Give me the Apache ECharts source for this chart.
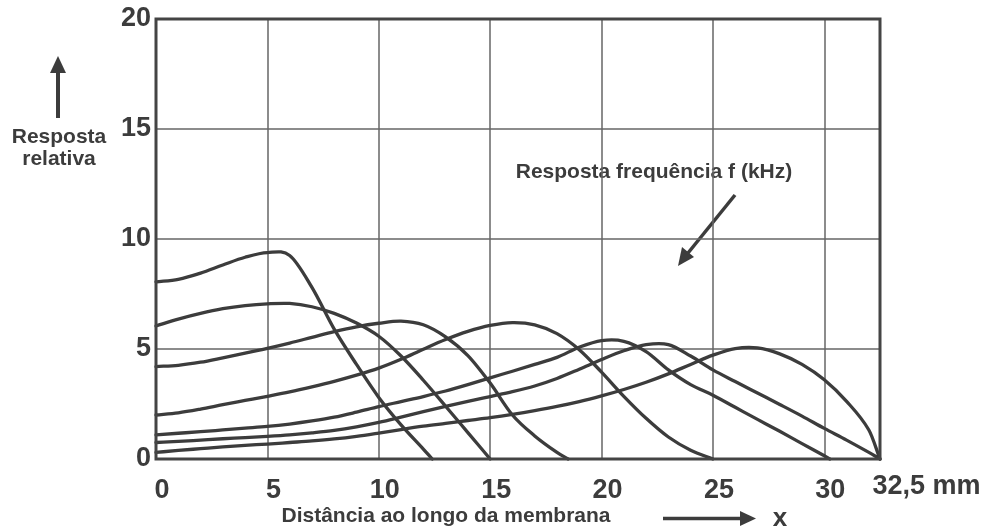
<!DOCTYPE html>
<html><head><meta charset="utf-8">
<script src="https://cdn.jsdelivr.net/npm/echarts@6/dist/echarts.min.js"></script>
<style>html,body{margin:0;padding:0;background:#fff}#c{width:987px;height:527px}</style>
</head><body><div id="c"></div>
<script>
// Axis ticks
const xMin = 0, xMax = 32.5, xStep = 5;
const yMin = 0, yMax = 20, yStep = 5;
const xEndLabel = '32,5 mm';

// Response curves (x in mm, y = relative response) at 1 mm steps
const curve1X = [0, 1, 2, 3, 4, 5, 6, 7, 8, 9, 10, 11, 12, 12.4];
const curve1Y = [8.05, 8.17, 8.45, 8.82, 9.17, 9.38, 9.25, 7.8, 5.9, 4.3, 2.8, 1.55, 0.45, 0];

const curve2X = [0, 1, 2, 3, 4, 5, 6, 7, 8, 9, 10, 11, 12, 13, 14, 15];
const curve2Y = [6.05, 6.36, 6.62, 6.83, 6.97, 7.05, 7.07, 6.92, 6.62, 6.18, 5.58, 4.68, 3.58, 2.4, 1.2, 0];

const curve3X = [0, 1, 2, 3, 4, 5, 6, 7, 8, 9, 10, 11, 12, 13, 14, 15, 16, 17, 18, 18.5];
const curve3Y = [4.2, 4.26, 4.4, 4.6, 4.81, 5.03, 5.27, 5.53, 5.79, 6.01, 6.17, 6.27, 6.1, 5.55, 4.7, 3.45, 2.0, 1.05, 0.3, 0];

const curve4X = [0, 1, 2, 3, 4, 5, 6, 7, 8, 9, 10, 11, 12, 13, 14, 15, 16, 17, 18, 19, 20, 21, 22, 23, 24, 25];
const curve4Y = [2.0, 2.1, 2.27, 2.47, 2.66, 2.85, 3.05, 3.28, 3.53, 3.81, 4.13, 4.53, 4.99, 5.43, 5.8, 6.07, 6.2, 6.1, 5.7, 4.97, 3.95, 2.85, 1.85, 1.0, 0.4, 0];

const curve5X = [0, 1, 2, 3, 4, 5, 6, 7, 8, 9, 10, 11, 12, 13, 14, 15, 16, 17, 18, 19, 20, 21, 22, 23, 24, 25, 26, 27, 28, 29, 30, 30.25];
const curve5Y = [1.1, 1.17, 1.24, 1.32, 1.4, 1.48, 1.59, 1.73, 1.9, 2.13, 2.38, 2.61, 2.84, 3.09, 3.38, 3.69, 3.99, 4.3, 4.62, 5.08, 5.38, 5.35, 4.88, 4.05, 3.38, 2.9, 2.35, 1.8, 1.26, 0.7, 0.15, 0];

const curve6X = [0, 1, 2, 3, 4, 5, 6, 7, 8, 9, 10, 11, 12, 13, 14, 15, 16, 17, 18, 19, 20, 21, 22, 23, 24, 25, 26, 27, 28, 29, 30, 31, 32, 32.5];
const curve6Y = [0.75, 0.8, 0.86, 0.92, 0.97, 1.03, 1.1, 1.19, 1.3, 1.46, 1.66, 1.9, 2.15, 2.39, 2.62, 2.84, 3.06, 3.32, 3.66, 4.08, 4.52, 4.92, 5.2, 5.2, 4.68, 4.05, 3.52, 3.0, 2.48, 1.95, 1.39, 0.86, 0.3, 0];

const curve7X = [0, 1, 2, 3, 4, 5, 6, 7, 8, 9, 10, 11, 12, 13, 14, 15, 16, 17, 18, 19, 20, 21, 22, 23, 24, 25, 26, 27, 28, 29, 30, 31, 32, 32.5];
const curve7Y = [0.3, 0.39, 0.47, 0.55, 0.62, 0.68, 0.75, 0.82, 0.91, 1.03, 1.18, 1.34, 1.49, 1.62, 1.75, 1.88, 2.03, 2.2, 2.39, 2.61, 2.87, 3.16, 3.49, 3.87, 4.3, 4.72, 5.02, 5.05, 4.78, 4.3, 3.6, 2.62, 1.32, 0];

const curvesX = [curve1X, curve2X, curve3X, curve4X, curve5X, curve6X, curve7X];
const curvesY = [curve1Y, curve2Y, curve3Y, curve4Y, curve5Y, curve6Y, curve7Y];

const INK = '#3c3c3c';
const FONT = "'Liberation Sans', Arial, sans-serif";

// Smooth curve through the data points (Hermite spline), positioned with the chart's own axes (api.coord)
function buildPath(xs, ys, api) {
  const p = xs.map((x, j) => api.coord([x, ys[j]]));
  const n = p.length;
  const tan = p.map((_, i) => {
    const a = i === 0 ? 0 : i - 1, b = i === n - 1 ? n - 1 : i + 1;
    const dx = xs[b] - xs[a];
    return [(p[b][0] - p[a][0]) / dx, (p[b][1] - p[a][1]) / dx];
  });
  let d = 'M' + p[0][0] + ' ' + p[0][1];
  for (let i = 0; i < n - 1; i++) {
    const h = (xs[i + 1] - xs[i]) / 3;
    const c1 = [p[i][0] + tan[i][0] * h, p[i][1] + tan[i][1] * h];
    const c2 = [p[i + 1][0] - tan[i + 1][0] * h, p[i + 1][1] - tan[i + 1][1] * h];
    d += ' C' + c1[0] + ' ' + c1[1] + ' ' + c2[0] + ' ' + c2[1] + ' ' + p[i + 1][0] + ' ' + p[i + 1][1];
  }
  return d;
}

const series = curvesX.map((xs, i) => ({
  type: 'custom',
  coordinateSystem: 'cartesian2d',
  data: xs.map((x, j) => [x, curvesY[i][j]]),
  encode: { x: 0, y: 1 },
  silent: true,
  z: 3,
  renderItem: (params, api) => {
    if (params.dataIndex !== 0) return null;
    return {
      type: 'path',
      shape: { pathData: buildPath(xs, curvesY[i], api) },
      style: { stroke: INK, lineWidth: 3.3, fill: null, lineJoin: 'round', lineCap: 'round' }
    };
  }
}));

const chart = echarts.init(document.getElementById('c'), null, { renderer: 'canvas' });
chart.setOption({
  backgroundColor: '#fff',
  animation: false,
  grid: {
    left: 156, right: 107, top: 19, bottom: 68,
    containLabel: false, outerBoundsMode: 'none',
    show: true, borderColor: '#444', borderWidth: 3, backgroundColor: 'transparent', z: 4
  },
  xAxis: {
    type: 'value', min: xMin, max: xMax, interval: xStep,
    axisLine: { show: false }, axisTick: { show: false },
    splitLine: { show: true, lineStyle: { color: '#666', width: 1.5 } },
    axisLabel: {
      show: true, margin: 14, showMinLabel: true, showMaxLabel: true, hideOverlap: false,
      color: INK, fontFamily: FONT, fontWeight: 'bold', fontSize: 27,
      formatter: v => (v === xMax ? '{m|' + xEndLabel + '}' : '{n|' + v + '}'),
      rich: {
        n: { padding: [4, 0, 0, 12], color: INK, fontFamily: FONT, fontWeight: 'bold', fontSize: 27 },
        m: { padding: [0, 0, 0, 93], color: INK, fontFamily: FONT, fontWeight: 'bold', fontSize: 27 }
      }
    }
  },
  yAxis: {
    type: 'value', min: yMin, max: yMax, interval: yStep,
    axisLine: { show: false }, axisTick: { show: false },
    splitLine: { show: true, lineStyle: { color: '#666', width: 1.5 } },
    axisLabel: {
      show: true, margin: 5, padding: [6, 0, 0, 0],
      color: INK, fontFamily: FONT, fontWeight: 'bold', fontSize: 27
    }
  },
  series: series,
  graphic: [
    // up arrow beside y label
    { type: 'line', shape: { x1: 58, y1: 118, x2: 58, y2: 70 }, style: { stroke: INK, lineWidth: 4 } },
    { type: 'polygon', shape: { points: [[50, 73], [66, 73], [58, 56]] }, style: { fill: INK } },
    { type: 'text', x: 59, y: 148,
      style: { text: 'Resposta\nrelativa', fill: INK, font: 'bold 21px ' + FONT, align: 'center', verticalAlign: 'middle', lineHeight: 22 } },
    // annotation
    { type: 'text', x: 654, y: 172,
      style: { text: 'Resposta frequência f (kHz)', fill: INK, font: 'bold 21px ' + FONT, align: 'center', verticalAlign: 'middle' } },
    { type: 'line', shape: { x1: 735, y1: 195, x2: 688, y2: 253 }, style: { stroke: INK, lineWidth: 3.5 } },
    { type: 'polygon', shape: { points: [[678, 266], [694, 257], [682, 247]] }, style: { fill: INK } },
    // x axis title
    { type: 'text', x: 446, y: 516,
      style: { text: 'Distância ao longo da membrana', fill: INK, font: 'bold 21px ' + FONT, align: 'center', verticalAlign: 'middle' } },
    { type: 'line', shape: { x1: 663, y1: 518.5, x2: 742, y2: 518.5 }, style: { stroke: INK, lineWidth: 3.5 } },
    { type: 'polygon', shape: { points: [[740, 511], [740, 526], [756, 518.5]] }, style: { fill: INK } },
    { type: 'text', x: 780, y: 519,
      style: { text: 'x', fill: INK, font: 'bold 26px ' + FONT, align: 'center', verticalAlign: 'middle' } }
  ]
});
</script>
</body></html>
